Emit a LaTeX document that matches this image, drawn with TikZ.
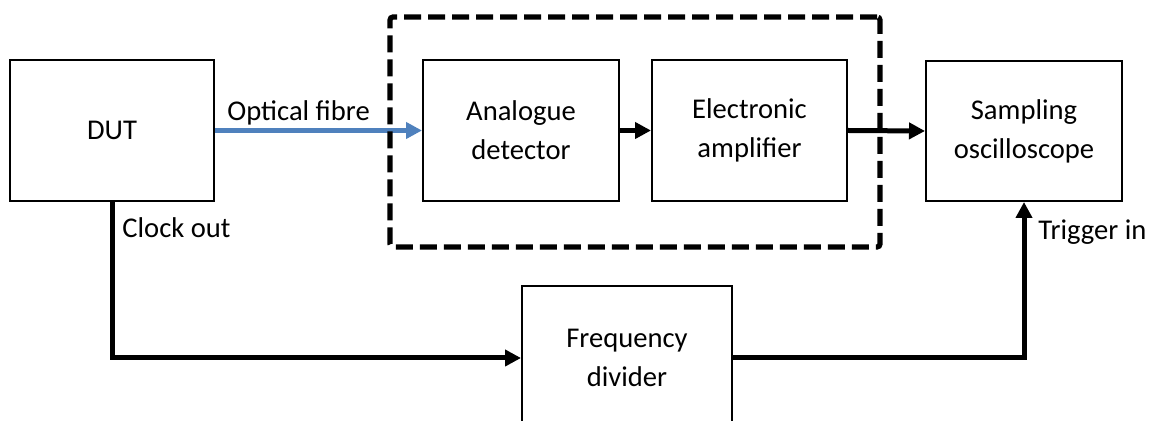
\documentclass[tikz,border=0pt]{standalone}
\usepackage{fontspec}
\setmainfont{Carlito}
\usetikzlibrary{arrows.meta}
\definecolor{fibreblue}{HTML}{4F81BD}
\begin{document}
\begin{tikzpicture}[x=0.5pt,y=-0.5pt,
  font=\fontsize{14.3}{19.5}\selectfont,
  blockbox/.style={draw, line width=1pt, align=center, inner sep=0pt},
  sig/.style={line width=2.5pt, -{Triangle[length=8pt,width=8pt]}},
  fibre/.style={sig, draw=fibreblue, fill=fibreblue},
  groupbox/.style={draw, line width=2.6pt, dash pattern=on 8.5pt off 3.5pt, rounded corners=1.5pt, inner sep=0pt},
  lbl/.style={anchor=west, inner sep=0pt}]
\useasboundingbox (0,0) rectangle (1149,421);
\clip (0,0) rectangle (1149,421);
\node[blockbox, minimum width=102pt, minimum height=70.5pt] (dut) at (112,130.5) {DUT};
\node[blockbox, minimum width=98pt, minimum height=70.5pt] (det) at (521,130.5) {Analogue\\detector};
\node[blockbox, minimum width=97.5pt, minimum height=70.5pt] (amp) at (749.5,130.5) {Electronic\\amplifier};
\node[blockbox, minimum width=98pt, minimum height=70pt] (osc) at (1024,131) {Sampling\\oscilloscope};
\node[blockbox, minimum width=105pt, minimum height=72pt] (freq) at (627,358) {Frequency\\divider};
\draw[fibre] (dut.east) -- (det.west);
\node[groupbox, minimum width=245pt, minimum height=115pt] (grp) at (635,132) {};
\draw[sig] (det.east) -- (amp.west);
\draw[sig] (amp.east) -- (osc.west);
\draw[sig] (dut.south) |- (freq.west);
\draw[sig] (freq.east) -| (osc.south);
\node[lbl] (lfibre) at (227,113) {Optical fibre};
\node[lbl] (lclock) at (122,228) {Clock out};
\node[lbl] (ltrig) at (1038,232) {Trigger in};
\end{tikzpicture}
\end{document}
